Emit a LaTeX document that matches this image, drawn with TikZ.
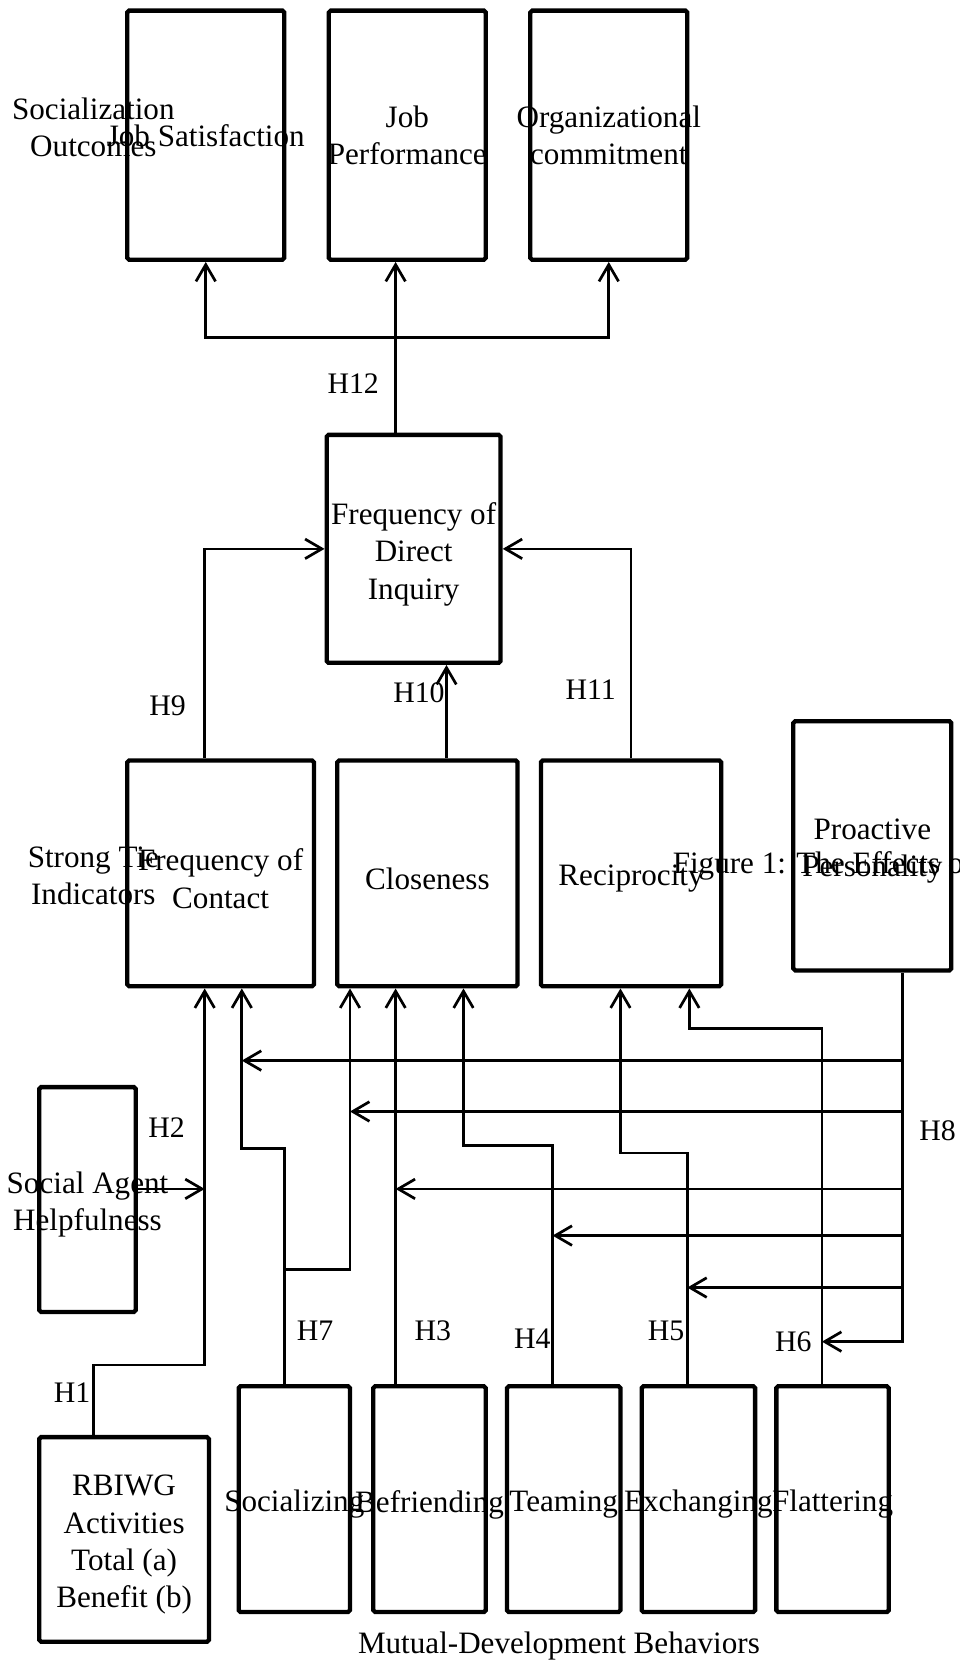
\documentclass[tikz,border=0pt]{standalone}
\usepackage{fontspec}
\setmainfont{Liberation Serif}
\usepackage{tikz}
\usetikzlibrary{arrows.meta,positioning,calc}
\tikzset{
  blk/.style={draw=black, line width=2.3pt, rounded corners=1pt, inner sep=0pt},
  txt/.style={font=\fontsize{16.7pt}{20pt}\selectfont, align=center, inner sep=0pt},
  inbox/.style={txt, yshift=-0.1cm},
  hyp/.style={font=\fontsize{16pt}{19pt}\selectfont, inner sep=0pt},
  link/.style={line width=1.45pt, color=black},
  arr/.style={link, -{Straight Barb[length=9pt, width=10.5pt]}},
}

\begin{document}
\begin{tikzpicture}[x=0.02cm,y=-0.02cm]
  \path[use as bounding box, fill=white] (0,0) rectangle (905,1568);
  % socialization outcomes
  \node[blk, minimum width=2.96cm, minimum height=4.7cm, label={[txt]center:Job Satisfaction}] (JS) at (194,127.5) {};
  \node[blk, minimum width=2.96cm, minimum height=4.7cm, label={[txt]center:Job\\Performance}] (JP) at (384,127.5) {};
  \node[blk, minimum width=2.96cm, minimum height=4.7cm, label={[txt]center:Organizational\\commitment}] (OC) at (574,127.5) {};
  \node[txt] (so) at (88,120) {Socialization\\Outcomes};
  % inquiry
  \node[blk, minimum width=3.28cm, minimum height=4.3cm, label={[inbox]center:Frequency of\\Direct\\Inquiry}] (FDI) at (390,517.5) {};
  % strong tie indicators
  \node[blk, minimum width=3.52cm, minimum height=4.26cm, label={[inbox]center:Frequency of\\Contact}] (FoC) at (208,823.5) {};
  \node[blk, minimum width=3.4cm, minimum height=4.26cm, label={[inbox]center:Closeness}] (CL) at (403,823.5) {};
  \node[blk, minimum width=3.4cm, minimum height=4.26cm, label={[inbox]center:Reciprocity}] (RE) at (595,823.5) {};
  \node[txt] (st) at (88,826) {Strong Tie\\Indicators};
  \node[blk, minimum width=2.98cm, minimum height=4.7cm, label={[inbox]center:Proactive\\Personality}] (PP) at (822.5,797.5) {};
  % antecedents
  \node[blk, minimum width=1.82cm, minimum height=4.24cm, label={[inbox]center:Social Agent\\Helpfulness}] (SA) at (82.5,1131) {};
  \node[blk, minimum width=3.2cm, minimum height=3.86cm, label={[inbox]center:RBIWG\\Activities\\Total (a)\\Benefit (b)}] (RB) at (117,1451.5) {};
  % mutual-development behaviors
  \node[blk, minimum width=2.1cm, minimum height=4.26cm, label={[inbox]center:Socializing}] (SO) at (277.5,1413.5) {};
  \node[blk, minimum width=2.12cm, minimum height=4.26cm, label={[inbox]center:Befriending}] (BF) at (405,1413.5) {};
  \node[blk, minimum width=2.14cm, minimum height=4.26cm, label={[inbox]center:Teaming}] (TE) at (531.5,1413.5) {};
  \node[blk, minimum width=2.14cm, minimum height=4.26cm, label={[inbox]center:Exchanging}] (EX) at (658.5,1413.5) {};
  \node[blk, minimum width=2.12cm, minimum height=4.26cm, label={[inbox]center:Flattering}] (FL) at (785,1413.5) {};
  \node[txt] (mdb) at (527,1552) {Mutual-Development Behaviors};
  \node[txt, anchor=west] (fig) at (634,816) {Figure 1: The Effects of};

  % H12
  \coordinate (j12) at (373,318);
  \draw[link] (j12 |- FDI.north) -- (j12);
  \draw[arr] (j12) -- (j12 |- JP.south);
  \draw[arr] (j12) -| (JS.south);
  \draw[arr] (j12) -| (OC.south);
  % H9 - H11
  \coordinate (c10) at ([xshift=0.36cm]CL.north);
  \draw[arr] ([xshift=-0.3cm]FoC.north) |- (FDI.west);
  \draw[arr] (c10) -- (c10 |- FDI.south);
  \draw[arr] (RE.north) |- (FDI.east);
  % H1, H2
  \coordinate (h1) at ([xshift=-0.58cm]RB.north);
  \coordinate (v1) at ([xshift=-0.3cm]FoC.south);
  \draw[arr] (h1) -- ++(0,-66) -| (v1);
  \draw[arr] ([yshift=0.2cm]SA.east) -- ([yshift=0.2cm]SA.east -| v1);
  % H7
  \coordinate (s7) at ([xshift=-0.19cm]SO.north);
  \coordinate (v7a) at ([xshift=0.4cm]FoC.south);
  \coordinate (v7b) at ([xshift=-1.46cm]CL.south);
  \draw[arr] (s7) -- (s7 |- 0,1083) -| (v7a);
  \draw[arr] (s7 |- 0,1197) -| (v7b);
  % H3
  \coordinate (v3) at ([xshift=-0.64cm]BF.north);
  \draw[arr] (v3) -- (v3 |- CL.south);
  % H4
  \coordinate (s4) at ([xshift=-0.21cm]TE.north);
  \coordinate (v4) at ([xshift=0.68cm]CL.south);
  \draw[arr] (s4) -- (s4 |- 0,1080) -| (v4);
  % H5
  \coordinate (s5) at ([xshift=-0.21cm]EX.north);
  \coordinate (v5) at ([xshift=-0.2cm]RE.south);
  \draw[arr] (s5) -- (s5 |- 0,1087) -| (v5);
  % H6
  \coordinate (s6) at ([xshift=-0.2cm]FL.north);
  \coordinate (v6) at ([xshift=1.1cm]RE.south);
  \draw[arr] (s6) -- (s6 |- 0,970) -| (v6);
  % H8: proactive personality to every behavior path
  \coordinate (h8) at ([xshift=0.57cm]PP.south);
  \draw[arr] (h8) |- (s6 |- 0,1265);
  \draw[arr] (h8 |- 0,1000) -- (v7a |- 0,1000);
  \draw[arr] (h8 |- 0,1048) -- (v7b |- 0,1048);
  \draw[arr] (h8 |- 0,1121) -- (v3 |- 0,1121);
  \draw[arr] (h8 |- 0,1165) -- (s4 |- 0,1165);
  \draw[arr] (h8 |- 0,1214) -- (s5 |- 0,1214);

  % hypothesis labels
  \node[hyp] (l12) at (333,362) {H12};
  \node[hyp] (l9) at (158,665) {H9};
  \node[hyp] (l10) at (395,653) {H10};
  \node[hyp] (l11) at (557,650) {H11};
  \node[hyp] (l2) at (157,1063) {H2};
  \node[hyp] (l1) at (68,1313) {H1};
  \node[hyp] (l7) at (297,1255) {H7};
  \node[hyp] (l3) at (408,1255) {H3};
  \node[hyp] (l4) at (502,1262) {H4};
  \node[hyp] (l5) at (628,1255) {H5};
  \node[hyp] (l6) at (748,1265) {H6};
  \node[hyp] (l8) at (884,1066) {H8};
\end{tikzpicture}
\end{document}
